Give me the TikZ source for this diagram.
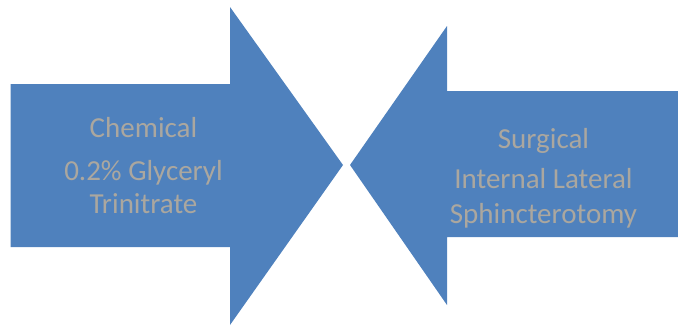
\documentclass[tikz,border=0pt]{standalone}
\usepackage{fontspec}
\setmainfont{Carlito}
\definecolor{frecciablu}{HTML}{4F81BD}
\definecolor{testogrigio}{HTML}{ABA79F}

\begin{document}
\begin{tikzpicture}[x=1pt, y=-1pt]
	% Stili
	\tikzset{freccia/.style={fill=frecciablu, draw=none},
		riga/.style={anchor=base, inner sep=0pt, text=testogrigio, font=\fontsize{29}{35}\selectfont}}
	
	% Cornice della figura
	\useasboundingbox (0,0) rectangle (678,327);
	
	% Freccia sinistra (verso destra)
	\fill[freccia] (10.5,84) -- (230,84) -- (230,7) -- (343,165) -- (230,325) -- (230,247) -- (10.5,247) -- cycle;
	
	% Freccia destra (verso sinistra)
	\fill[freccia] (678,91) -- (447,91) -- (447,26) -- (350,165) -- (447,305) -- (447,237) -- (678,237) -- cycle;
	
	% Testi della freccia sinistra
	\node[riga] (chim) at (143.5,137) {Chemical};
	\node[riga] (gtn1) at (143.5,180) {0.2\% Glyceryl};
	\node[riga] (gtn2) at (143.5,213) {Trinitrate};
	
	% Testi della freccia destra
	\node[riga] (chir) at (543.5,148) {Surgical};
	\node[riga] (lis1) at (543.5,188) {Internal Lateral};
	\node[riga] (lis2) at (543.5,223) {Sphincterotomy};
\end{tikzpicture}
\end{document}
